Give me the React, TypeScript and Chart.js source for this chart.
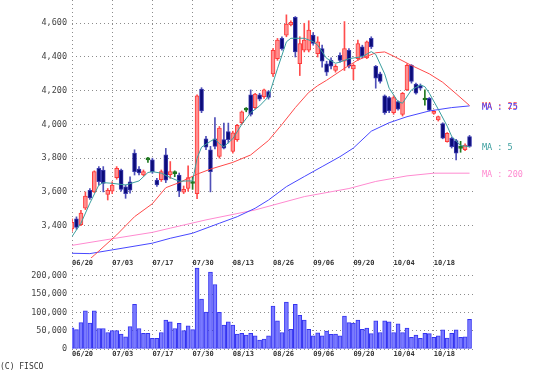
import React, { useEffect, useRef } from 'react';
import { Chart, registerables } from 'chart.js';
Chart.register(...registerables);

// ---- tick labels ----
const dateLabels = ['06/20', '07/03', '07/17', '07/30', '08/13', '08/26', '09/06', '09/20', '10/04', '10/18'];
const dateSlots = [0, 9, 18, 27, 36, 45, 54, 63, 72, 81];
const priceTicks = [3400, 3600, 3800, 4000, 4200, 4400, 4600];
const volumeTicks = [0, 50000, 100000, 150000, 200000];

// ---- candles (one per trading day, slot 0..89) ----
const opens = [
  3380, 3440, 3405, 3503, 3610, 3600, 3740, 3730, 3585, 3605,
  3685, 3730, 3630, 3660, 3830, 3735, 3700, 3790, 3790, 3670,
  3672, 3820, 3702, 3708, 3700, 3598, 3620, 3650, 3590, 4210,
  3915, 3850, 3915, 3810, 3910, 3958, 3840, 3910, 4010, 4085,
  4175, 4100, 4175, 4165, 4195, 4300, 4390, 4510, 4530, 4590,
  4635, 4360, 4440, 4440, 4530, 4420, 4450, 4360, 4380, 4320,
  4410, 4375, 4440, 4330, 4390, 4460, 4395, 4510, 4345, 4300,
  4170, 4160, 4070, 4135, 4060, 4205, 4350, 4240, 4230, 4145,
  4155, 4065, 4027, 4005, 3898, 3918, 3905, 3858, 3850, 3928,
];
const highs = [
  3440, 3452, 3490, 3600, 3620, 3725, 3750, 3750, 3620, 3660,
  3750, 3735, 3641, 3690, 3850, 3750, 3730, 3805, 3800, 3680,
  3730, 3858, 3780, 3725, 3712, 3635, 3755, 3690, 4175, 4218,
  3930, 3870, 4040, 3988, 4008, 4008, 3960, 4000, 4080, 4100,
  4205, 4185, 4185, 4210, 4200, 4450, 4510, 4520, 4650, 4615,
  4640, 4520, 4600, 4615, 4545, 4520, 4470, 4375, 4395, 4355,
  4425, 4610, 4450, 4360, 4500, 4470, 4495, 4520, 4350, 4310,
  4175, 4165, 4170, 4140, 4190, 4360, 4355, 4245, 4240, 4205,
  4160, 4085, 4050, 4010, 3952, 3925, 3912, 3900, 3885, 3935,
];
const lows = [
  3365, 3378, 3400, 3495, 3555, 3595, 3640, 3600, 3552, 3590,
  3675, 3605, 3562, 3592, 3700, 3700, 3695, 3775, 3710, 3632,
  3662, 3655, 3680, 3690, 3572, 3590, 3605, 3615, 3560, 4070,
  3850, 3600, 3855, 3800, 3855, 3890, 3830, 3900, 4000, 4075,
  4050, 4090, 4140, 4155, 4150, 4285, 4380, 4440, 4520, 4585,
  4400, 4290, 4430, 4430, 4470, 4400, 4340, 4290, 4330, 4310,
  4370, 4320, 4335, 4265, 4380, 4395, 4390, 4450, 4215, 4245,
  4060, 4070, 4060, 4085, 4050, 4200, 4245, 4180, 4205, 4115,
  4080, 4060, 4020, 3915, 3895, 3860, 3790, 3835, 3845, 3865,
];
const closes = [
  3420, 3390, 3475, 3575, 3565, 3720, 3660, 3650, 3610, 3640,
  3740, 3615, 3590, 3610, 3720, 3712, 3720, 3790, 3720, 3642,
  3720, 3670, 3720, 3708, 3605, 3615, 3685, 3650, 4170, 4080,
  3865, 3720, 3870, 3978, 3860, 3910, 3950, 3995, 4075, 4085,
  4060, 4180, 4150, 4205, 4160, 4440, 4500, 4450, 4595, 4605,
  4430, 4480, 4500, 4560, 4480, 4490, 4375, 4310, 4345, 4345,
  4380, 4450, 4345, 4350, 4480, 4405, 4490, 4460, 4275, 4255,
  4070, 4080, 4160, 4090, 4185, 4350, 4255, 4185, 4215, 4145,
  4085, 4078, 4046, 3918, 3948, 3868, 3830, 3858, 3878, 3870,
];

// ---- volume ----
const volumes = [
  58000, 53000, 72000, 104000, 71000, 104000, 56000, 56000, 45000, 50000,
  50000, 41000, 33000, 61000, 122000, 56000, 43000, 43000, 29000, 29000,
  45000, 79000, 74000, 56000, 70000, 50000, 63000, 53000, 221000, 136000,
  101000, 210000, 176000, 100000, 65000, 74000, 65000, 41000, 43000, 38000,
  43000, 36000, 24000, 27000, 36000, 117000, 77000, 45000, 128000, 54000,
  122000, 92000, 79000, 54000, 36000, 44000, 36000, 49000, 40000, 41000,
  36000, 90000, 72000, 71000, 79000, 54000, 57000, 42000, 77000, 45000,
  77000, 74000, 45000, 69000, 45000, 57000, 32000, 38000, 29000, 43000,
  42000, 32000, 36000, 52000, 30000, 43000, 52000, 32000, 33000, 81000,
];

// ---- moving averages (slot, value) ----
const ma5Slots = [0, 2, 4, 6, 7, 9, 12, 15, 17, 18, 20, 22, 24, 26, 27, 28, 29, 31, 32, 33, 34, 36, 38, 40, 42, 44, 46, 48, 49, 52, 54, 55, 57, 59, 60, 62, 65, 67, 68, 70, 71, 73, 74, 76, 78, 79, 80, 82, 84, 85, 87, 89];
const ma5Values = [3335, 3414, 3533, 3640, 3655, 3651, 3641, 3665, 3715, 3720, 3711, 3685, 3663, 3665, 3665, 3800, 3865, 3900, 3915, 3885, 3868, 3915, 4000, 4070, 4110, 4165, 4330, 4490, 4511, 4511, 4491, 4470, 4392, 4363, 4370, 4390, 4402, 4432, 4415, 4300, 4215, 4135, 4126, 4205, 4234, 4224, 4185, 4090, 3990, 3930, 3875, 3868];
const ma25Slots = [0, 5, 10, 14, 18, 21, 24, 28, 31, 36, 40, 44, 47, 50, 53, 55, 57, 61, 64, 68, 70, 72, 76, 80, 83, 86, 89];
const ma25Values = [3110, 3225, 3345, 3453, 3530, 3625, 3655, 3705, 3735, 3775, 3819, 3905, 4000, 4100, 4190, 4230, 4262, 4333, 4382, 4425, 4430, 4405, 4350, 4300, 4250, 4182, 4112];
const ma75Slots = [0, 4, 9, 18, 22, 27, 33, 37, 41, 44, 48, 52, 56, 60, 63, 67, 71, 75, 80, 85, 89];
const ma75Values = [3236, 3234, 3256, 3296, 3325, 3355, 3414, 3453, 3503, 3552, 3631, 3691, 3750, 3809, 3860, 3960, 4010, 4046, 4080, 4100, 4110];
const ma200Slots = [0, 9, 18, 22, 30, 41, 52, 62, 68, 75, 81, 89];
const ma200Values = [3283, 3322, 3360, 3385, 3434, 3493, 3572, 3620, 3662, 3695, 3711, 3711];

// ---- styles ----
const MONO = '"DejaVu Sans Mono", monospace';
const GRID = '#8c8c8c';
const C_MA5 = '#3a9e9e';
const C_MA25 = '#ff4a4a';
const C_MA75 = '#4848ff';
const C_MA200 = '#ff8ad0';

const fmt = (v: number) => v.toLocaleString('en-US');
const slotCount = opens.length;
const slots = Array.from({ length: slotCount }, (_, i) => i);

const dir = (i: number) => (closes[i] > opens[i] ? 1 : closes[i] < opens[i] ? -1 : 0);

function xScale(height: number) {
  return {
    type: 'linear' as const,
    min: 0,
    max: slotCount,
    offset: false,
    grid: { color: GRID, lineWidth: 1, drawTicks: false, offset: false },
    border: { display: false, dash: [1, 3] },
    afterBuildTicks: (scale: any) => {
      scale.ticks = dateSlots.map((v) => ({ value: v }));
    },
    afterFit: (scale: any) => {
      scale.height = height;
      scale.paddingLeft = 0;
      scale.paddingRight = 0;
      scale.paddingTop = 0;
      scale.paddingBottom = 0;
    },
    ticks: {
      autoSkip: false,
      maxRotation: 0,
      align: 'start' as const,
      padding: 1,
      color: '#333',
      font: { family: MONO, size: 7, weight: 'bold' as const },
      callback: (v: any) => {
        const k = dateSlots.indexOf(Number(v));
        return k >= 0 ? dateLabels[k] : '';
      },
    },
  };
}

function yScale(min: number, max: number, tickValues: number[]) {
  return {
    type: 'linear' as const,
    min,
    max,
    grid: { color: GRID, lineWidth: 1, drawTicks: false },
    border: { display: false, dash: [1, 3] },
    afterBuildTicks: (scale: any) => {
      scale.ticks = tickValues.map((v) => ({ value: v }));
    },
    afterFit: (scale: any) => {
      scale.width = 72;
      scale.paddingLeft = 0;
      scale.paddingRight = 0;
      scale.paddingTop = 0;
      scale.paddingBottom = 0;
    },
    ticks: {
      padding: 5,
      color: '#444',
      font: { family: MONO, size: 8.5 },
      callback: (v: any) => fmt(Number(v)),
    },
  };
}

const maSeries = [
  { label: 'MA : 200', values: ma200Values, color: C_MA200 },
  { label: 'MA : 5', values: ma5Values, color: C_MA5 },
  { label: 'MA : 25', values: ma25Values, color: C_MA25 },
  { label: 'MA : 75', values: ma75Values, color: C_MA75 },
];

const maLabelPlugin = {
  id: 'maLabels',
  afterDatasetsDraw(chart: any) {
    const ctx = chart.ctx;
    const y = chart.scales.y;
    ctx.save();
    ctx.font = `8.5px ${MONO}`;
    ctx.textAlign = 'left';
    ctx.textBaseline = 'middle';
    maSeries.forEach((s) => {
      ctx.fillStyle = s.color;
      ctx.fillText(s.label, 482, y.getPixelForValue(s.values[s.values.length - 1]) + 1.5);
    });
    ctx.restore();
  },
};

const line = (xs: number[], ys: number[], color: string, order: number) => ({
  type: 'line' as const,
  data: xs.map((x, i) => ({ x, y: ys[i] })),
  borderColor: color,
  borderWidth: 1,
  pointRadius: 0,
  tension: 0,
  fill: false,
  order,
});

export default function App() {
  const mainRef = useRef<HTMLCanvasElement>(null);
  const volRef = useRef<HTMLCanvasElement>(null);

  useEffect(() => {
    const wickColor = slots.map((i) => (dir(i) > 0 ? '#ff4d4d' : dir(i) < 0 ? '#5050b8' : '#227a22'));
    const bodyFill = slots.map((i) => (dir(i) > 0 ? '#ff8f8f' : dir(i) < 0 ? '#0c0c7a' : '#1e761e'));
    const bodyBorder = slots.map((i) => (dir(i) > 0 ? '#ff3a3a' : dir(i) < 0 ? '#3a3aae' : '#1e761e'));

    const main = new Chart(mainRef.current!, {
      type: 'bar',
      data: {
        datasets: [
          line(ma5Slots, ma5Values, C_MA5, 0),
          line(ma25Slots, ma25Values, C_MA25, 1),
          line(ma75Slots, ma75Values, C_MA75, 2),
          line(ma200Slots, ma200Values, C_MA200, 3),
          {
            type: 'bar',
            data: slots.map((i) => ({ x: i, y: [opens[i], closes[i]] })),
            backgroundColor: bodyFill,
            borderColor: bodyBorder,
            borderWidth: 1,
            borderSkipped: false,
            barThickness: 4,
            minBarLength: 2,
            grouped: false,
            order: 4,
          } as any,
          {
            type: 'bar',
            data: slots.map((i) => ({ x: i, y: [lows[i], highs[i]] })),
            backgroundColor: wickColor,
            borderWidth: 0,
            barThickness: 1,
            grouped: false,
            order: 5,
          } as any,
        ],
      },
      options: {
        responsive: false,
        animation: false,
        layout: { padding: { left: 0, right: 65, top: 0, bottom: 0 } },
        plugins: { legend: { display: false }, tooltip: { enabled: false } },
        scales: {
          x: xScale(10),
          y: yScale(3208, 4738, priceTicks),
        } as any,
      },
      plugins: [maLabelPlugin],
    });

    const vol = new Chart(volRef.current!, {
      type: 'bar',
      data: {
        datasets: [
          {
            data: volumes.map((v, i) => ({ x: i, y: v })),
            backgroundColor: '#7a7aff',
            borderColor: '#3434f0',
            borderWidth: 1,
            borderSkipped: false,
            barThickness: 4,
            grouped: false,
          } as any,
        ],
      },
      options: {
        responsive: false,
        animation: false,
        layout: { padding: { left: 0, right: 65, top: 0, bottom: 0 } },
        plugins: { legend: { display: false }, tooltip: { enabled: false } },
        scales: {
          x: xScale(11),
          y: yScale(0, 237400, volumeTicks),
        } as any,
      },
    });

    return () => {
      main.destroy();
      vol.destroy();
    };
  }, []);

  return (
    <div style={{ position: 'absolute', left: 0, top: 0, width: 539, height: 377, background: '#fff', overflow: 'hidden' }}>
      <canvas ref={mainRef} width={539} height={268} style={{ position: 'absolute', left: 0, top: 0 }} />
      <canvas ref={volRef} width={539} height={98} style={{ position: 'absolute', left: 0, top: 262 }} />
      <div style={{ position: 'absolute', left: 0, top: 362, font: `8px ${MONO}`, lineHeight: '10px', color: '#333', whiteSpace: 'pre' }}>
        (C) FISCO
      </div>
    </div>
  );
}
